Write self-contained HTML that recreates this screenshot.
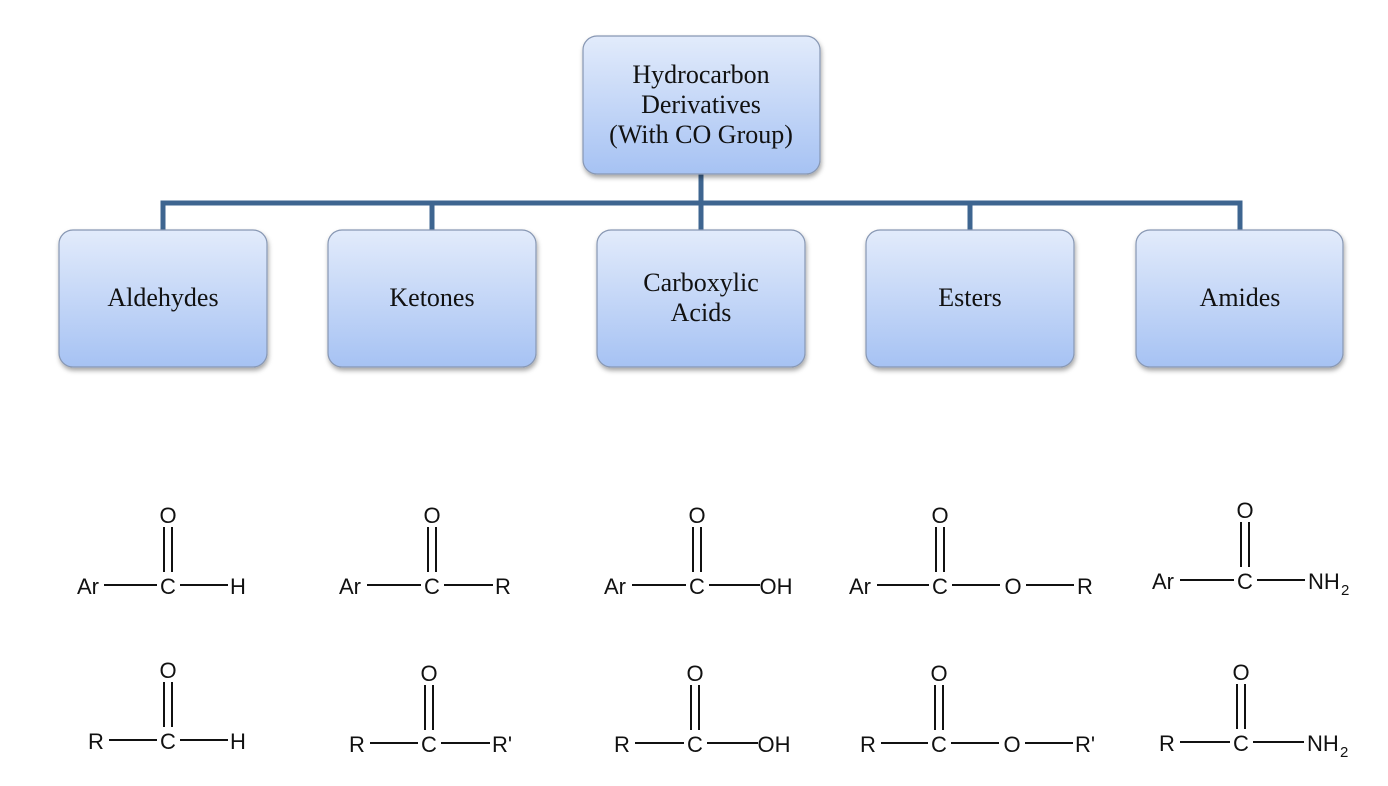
<!DOCTYPE html>
<html><head><meta charset="utf-8"><style>
html,body{margin:0;padding:0;background:#fff;}
svg{display:block;}
.t{font-family:"Liberation Serif",serif;font-size:26px;fill:#111;text-anchor:middle;}
.c{font-family:"Liberation Sans",sans-serif;font-size:22px;fill:#111;text-anchor:middle;}
.n{font-family:"Liberation Sans",sans-serif;font-size:22px;fill:#111;}
.s{font-family:"Liberation Sans",sans-serif;font-size:15px;fill:#111;}
.b{stroke:#111;stroke-width:2;fill:none;}
</style></head><body>
<svg width="1388" height="786" viewBox="0 0 1388 786" xmlns="http://www.w3.org/2000/svg">
<defs>
<linearGradient id="g" x1="0" y1="0" x2="0" y2="1">
<stop offset="0" stop-color="#e2ebfb"/><stop offset="1" stop-color="#a6c2f3"/>
</linearGradient>
<filter id="sh" x="-10%" y="-10%" width="130%" height="130%"><feDropShadow dx="1" dy="3" stdDeviation="2.5" flood-color="#000" flood-opacity="0.35"/></filter>
</defs>
<g stroke="#3e6590" stroke-width="5" fill="none">
<path d="M701 174 V230"/>
<path d="M163 230 V203 H1240 V230"/>
<path d="M432 203 V230 M970 203 V230"/>
</g>
<g fill="url(#g)" stroke="#8797b3" stroke-width="1.2" filter="url(#sh)">
<rect x="583" y="36" width="237" height="138" rx="14"/>
<rect x="59" y="230" width="208" height="137" rx="14"/>
<rect x="328" y="230" width="208" height="137" rx="14"/>
<rect x="597" y="230" width="208" height="137" rx="14"/>
<rect x="866" y="230" width="208" height="137" rx="14"/>
<rect x="1136" y="230" width="207" height="137" rx="14"/>
</g>
<text class="t" x="701" y="83">Hydrocarbon</text>
<text class="t" x="701" y="113">Derivatives</text>
<text class="t" x="701" y="143">(With CO Group)</text>
<text class="t" x="163" y="306">Aldehydes</text>
<text class="t" x="432" y="306">Ketones</text>
<text class="t" x="701" y="291">Carboxylic</text>
<text class="t" x="701" y="321">Acids</text>
<text class="t" x="970" y="306">Esters</text>
<text class="t" x="1240" y="306">Amides</text>

<g>
<text class="c" x="88" y="594">Ar</text><text class="c" x="168" y="594">C</text><text class="c" x="238" y="594">H</text><text class="c" x="168" y="523">O</text>
<path class="b" d="M164 527V572M172 527V572M104 585H157M180 585H228"/>
<text class="c" x="96" y="749">R</text><text class="c" x="168" y="749">C</text><text class="c" x="238" y="749">H</text><text class="c" x="168" y="678">O</text>
<path class="b" d="M164 682V727M172 682V727M109 740H157M180 740H228"/>
</g>
<g>
<text class="c" x="350" y="594">Ar</text><text class="c" x="432" y="594">C</text><text class="c" x="503" y="594">R</text><text class="c" x="432" y="523">O</text>
<path class="b" d="M428 527V572M436 527V572M367 585H421M444 585H493"/>
<text class="c" x="357" y="752">R</text><text class="c" x="429" y="752">C</text><text class="c" x="502" y="752">R'</text><text class="c" x="429" y="681">O</text>
<path class="b" d="M425 685V730M433 685V730M370 743H418M441 743H490"/>
</g>
<g>
<text class="c" x="615" y="594">Ar</text><text class="c" x="697" y="594">C</text><text class="c" x="776" y="594">OH</text><text class="c" x="697" y="523">O</text>
<path class="b" d="M693 527V572M701 527V572M632 585H686M709 585H760"/>
<text class="c" x="622" y="752">R</text><text class="c" x="695" y="752">C</text><text class="c" x="774" y="752">OH</text><text class="c" x="695" y="681">O</text>
<path class="b" d="M691 685V730M699 685V730M635 743H684M707 743H758"/>
</g>
<g>
<text class="c" x="860" y="594">Ar</text><text class="c" x="940" y="594">C</text><text class="c" x="1013" y="594">O</text><text class="c" x="1085" y="594">R</text><text class="c" x="940" y="523">O</text>
<path class="b" d="M936 527V572M944 527V572M877 585H929M952 585H1000M1026 585H1074"/>
<text class="c" x="868" y="752">R</text><text class="c" x="939" y="752">C</text><text class="c" x="1012" y="752">O</text><text class="c" x="1085" y="752">R'</text><text class="c" x="939" y="681">O</text>
<path class="b" d="M935 685V730M943 685V730M881 743H928M951 743H999M1025 743H1073"/>
</g>
<g>
<text class="c" x="1163" y="589">Ar</text><text class="c" x="1245" y="589">C</text><text class="c" x="1245" y="518">O</text>
<text class="n" x="1308" y="589">NH</text><text class="s" x="1341" y="595">2</text>
<path class="b" d="M1241 522V567M1249 522V567M1180 580H1234M1257 580H1305"/>
<text class="c" x="1167" y="751">R</text><text class="c" x="1241" y="751">C</text><text class="c" x="1241" y="680">O</text>
<text class="n" x="1307" y="751">NH</text><text class="s" x="1340" y="757">2</text>
<path class="b" d="M1237 684V729M1245 684V729M1180 742H1230M1253 742H1304"/>
</g>
</svg>
</body></html>
